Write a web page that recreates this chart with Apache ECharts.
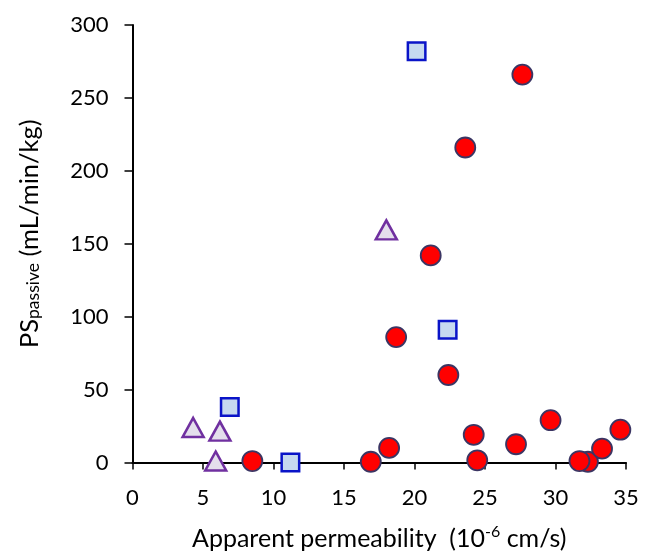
<!DOCTYPE html>
<html>
<head>
<meta charset="utf-8">
<script src="https://cdn.jsdelivr.net/npm/echarts@6/dist/echarts.min.js"></script>
<style>
  html, body { margin: 0; padding: 0; background: #fff; }
  #chart { width: 649px; height: 553px; }
</style>
</head>
<body>
<div id="chart"></div>
<script>
// circles (red)
const circleX = [8.5, 16.9, 18.2, 18.7, 21.15, 22.4, 23.6, 27.65, 24.2, 24.45, 27.2, 29.65, 32.3, 31.7, 33.3, 34.6];
const circleY = [1, 0.5, 10, 86, 142, 60, 216, 266, 19, 1.5, 12.5, 29, 0.5, 1, 9.5, 22.5];
// squares (blue)
const squareX = [6.9, 11.2, 20.15, 22.35];
const squareY = [38, 0, 282, 91];
// triangles (purple)
const triX = [4.3, 6.2, 5.9, 18.0];
const triY = [24, 21.5, 1, 159.5];

const xTicks = { min: 0, max: 35, interval: 5 };
const yTicks = { min: 0, max: 300, interval: 50 };

function zip(xs, ys) {
  return xs.map((x, i) => [x, ys[i]]);
}

const font = 'Lato, "Open Sans", sans-serif';

let chart = echarts.init(document.getElementById('chart'), null, { renderer: 'canvas' });

let option = {
  animation: false,
  grid: {
    left: 132.5,
    right: 23,
    top: 25,
    bottom: 90.5,
    outerBoundsMode: 'none',
    containLabel: false,
  },
  xAxis: {
    type: 'value',
    min: xTicks.min,
    max: xTicks.max,
    interval: xTicks.interval,
    name: '{a|Apparent permeability  (10}{s|-6}{a| cm/s)}',
    nameLocation: 'middle',
    nameGap: 61,
    nameTextStyle: {
      rich: {
        a: { fontFamily: font, fontSize: 25, color: '#000', lineHeight: 28, verticalAlign: 'bottom' },
        s: { fontFamily: font, fontSize: 16, color: '#000', lineHeight: 17, verticalAlign: 'top' },
      },
    },
    axisLine: { onZero: false, lineStyle: { color: '#000', width: 2 } },
    axisTick: { inside: false, length: 7, lineStyle: { color: '#000', width: 1.5 } },
    axisLabel: { fontFamily: font, fontSize: 22, color: '#000', margin: 24 },
    splitLine: { show: false },
  },
  yAxis: {
    type: 'value',
    min: yTicks.min,
    max: yTicks.max,
    interval: yTicks.interval,
    name: '{a|PS}{b|passive}{a| (mL/min/kg)}',
    nameLocation: 'middle',
    nameGap: 90,
    nameRotate: 90,
    nameTextStyle: {
      padding: [0, 0, 0, 20],
      rich: {
        a: { fontFamily: font, fontSize: 25.5, color: '#000', lineHeight: 26, verticalAlign: 'top' },
        b: { fontFamily: font, fontSize: 17.5, color: '#000', lineHeight: 17, padding: [13, 0, 0, 0], verticalAlign: 'bottom' },
      },
    },
    axisLine: { onZero: false, lineStyle: { color: '#000', width: 2 } },
    axisTick: { inside: false, length: 8, lineStyle: { color: '#000', width: 1.5 } },
    axisLabel: { fontFamily: font, fontSize: 22, color: '#000', margin: 24 },
    splitLine: { show: false },
  },
  series: [
    {
      type: 'scatter',
      symbol: 'triangle',
      symbolSize: [21, 19],
      data: zip(triX, triY),
      itemStyle: { color: '#e4dfec', borderColor: '#7030a0', borderWidth: 2.5, opacity: 1 },
    },
    {
      type: 'scatter',
      symbol: 'rect',
      symbolSize: 17.5,
      data: zip(squareX, squareY),
      itemStyle: { color: '#c6d9f0', borderColor: '#0a14c8', borderWidth: 2.5, opacity: 1 },
    },
    {
      type: 'scatter',
      symbol: 'circle',
      symbolSize: 20,
      data: zip(circleX, circleY),
      itemStyle: { color: '#ff0000', borderColor: '#3b3563', borderWidth: 1.8, opacity: 1 },
    },
  ],
};

chart.setOption(option);
</script>
</body>
</html>
